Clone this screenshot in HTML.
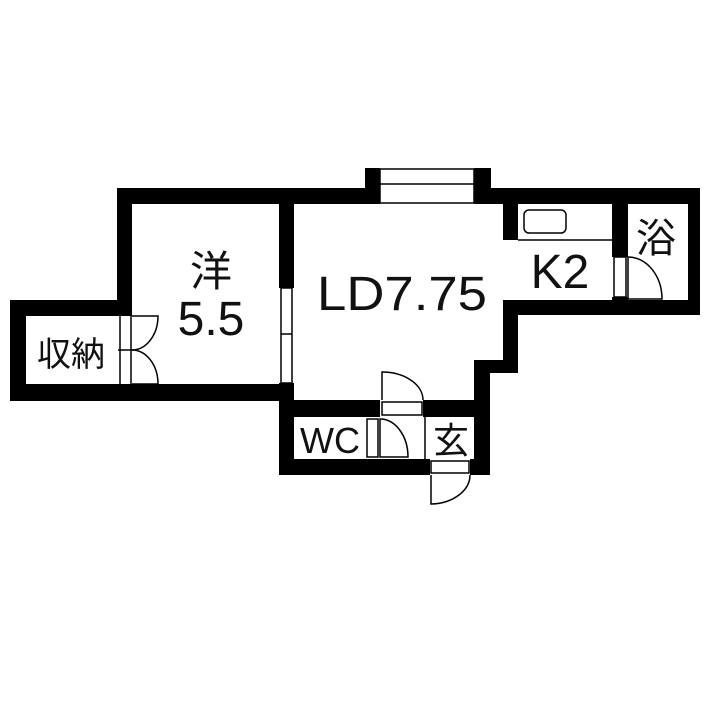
<!DOCTYPE html>
<html><head><meta charset="utf-8"><style>
html,body{margin:0;padding:0;background:#fff;}
svg{display:block;}
text{font-family:"Liberation Sans","Noto Sans CJK JP",sans-serif;fill:#111;text-anchor:middle;}
</style></head><body>
<svg width="720" height="720" viewBox="0 0 720 720" xmlns="http://www.w3.org/2000/svg">
<rect width="720" height="720" fill="#fff"/>
<g fill="#000">
<rect x="117" y="188" width="15" height="128"/>
<rect x="117" y="188" width="263" height="16"/>
<rect x="279" y="188" width="15" height="100"/>
<rect x="10" y="300" width="122" height="16"/>
<rect x="10" y="300" width="16" height="101"/>
<rect x="10" y="384" width="284" height="17"/>
<rect x="365" y="168" width="15" height="36"/>
<rect x="474" y="168" width="17" height="36"/>
<rect x="474" y="188" width="226" height="16"/>
<rect x="503" y="188" width="15" height="52"/>
<rect x="612" y="188" width="16" height="69"/>
<rect x="612" y="297" width="16" height="18"/>
<rect x="688" y="188" width="12" height="127"/>
<rect x="503" y="300" width="197" height="15"/>
<rect x="503" y="300" width="15" height="73"/>
<rect x="474" y="360" width="44" height="13"/>
<rect x="474" y="360" width="16" height="115"/>
<rect x="279" y="383" width="15" height="92"/>
<rect x="279" y="400" width="101" height="17"/>
<rect x="423" y="400" width="67" height="17"/>
<rect x="279" y="459" width="151" height="16"/>
<rect x="470" y="459" width="20" height="16"/>
</g>
<g fill="none" stroke="#000" stroke-width="1.5">
<rect x="380" y="169" width="94" height="34"/>
<line x1="380" y1="184" x2="474" y2="184"/>
<rect x="281" y="288" width="11" height="95"/>
<line x1="281" y1="334" x2="292" y2="334"/>
<line x1="120" y1="316" x2="120" y2="384"/>
<line x1="131" y1="316" x2="131" y2="384"/>
<line x1="118" y1="350" x2="132" y2="350"/>
<path d="M132 316 L158 316 A26 34 0 0 1 132 350"/>
<path d="M132 384 L158 384 A26 34 0 0 0 132 350"/>
<rect x="524" y="210" width="42" height="23" rx="5"/>
<line x1="518" y1="240" x2="612" y2="240"/>
<rect x="614" y="257" width="12" height="40"/>
<path d="M628 257 L628 299 L662 299 A34 42 0 0 0 628 257"/>
<rect x="382" y="402" width="40" height="13"/>
<path d="M382 400 L382 372 A41 28 0 0 1 423 400"/>
<rect x="367" y="419" width="11" height="38"/>
<path d="M380 419 A28 38 0 0 1 408 457 L380 457 Z"/>
<line x1="425" y1="417" x2="425" y2="459"/>
<rect x="431" y="461" width="38" height="12"/>
<path d="M431 475 L431 504 A40 29 0 0 0 470 475"/>
</g>
<text x="211" y="286" font-size="42">洋</text>
<text x="211" y="335" font-size="48">5.5</text>
<text x="402" y="310" font-size="48" textLength="170" lengthAdjust="spacingAndGlyphs">LD7.75</text>
<text x="560" y="288" font-size="48">K2</text>
<text x="656" y="252" font-size="40">浴</text>
<text x="71" y="366" font-size="34">収納</text>
<text x="330" y="453" font-size="36">WC</text>
<text x="451" y="453" font-size="36">玄</text>
</svg>
</body></html>
